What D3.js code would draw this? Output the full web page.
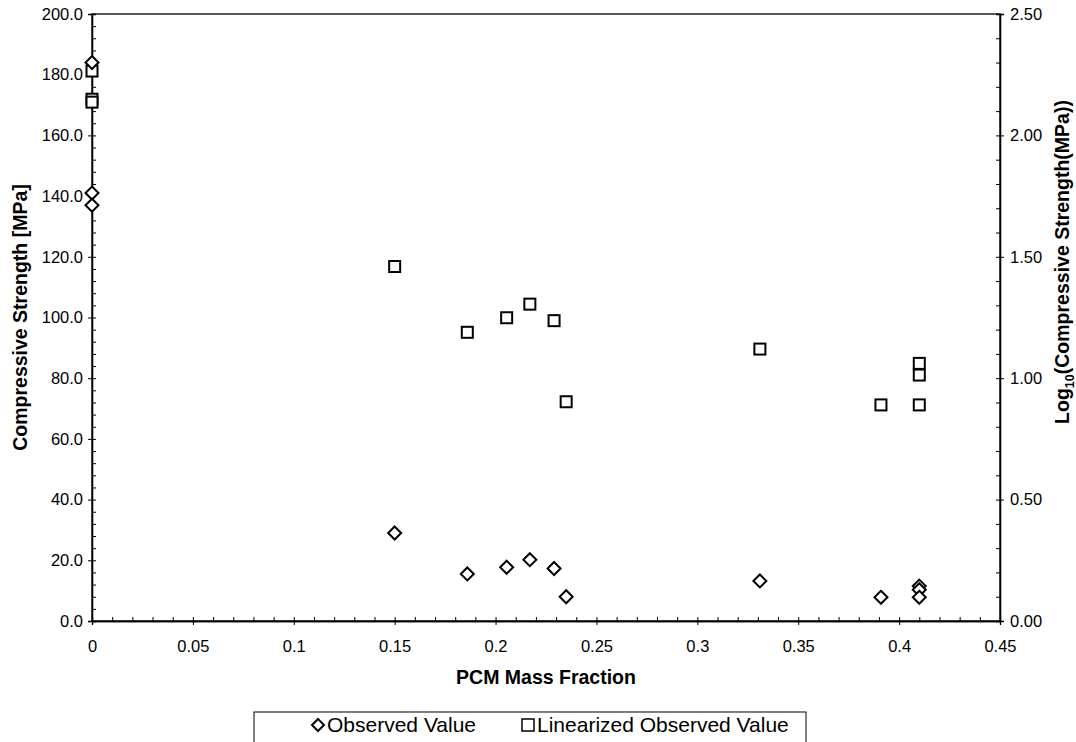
<!DOCTYPE html>
<html>
<head>
<meta charset="utf-8">
<script src="https://cdn.jsdelivr.net/npm/d3@7"></script>
<style>
  body { margin: 0; background: #fff; }
  svg { font-family: "Liberation Sans", Arial, sans-serif; }
</style>
</head>
<body>
<div id="chart"></div>
<script>
// PCM mass fraction of each sample
var fraction = [0, 0, 0, 0.15, 0.186, 0.2055, 0.217, 0.229, 0.235, 0.331, 0.391, 0.41, 0.41, 0.41]
// observed compressive strength [MPa]
var observed = [184, 141, 137, 29, 15.5, 17.7, 20.2, 17.3, 8, 13.2, 7.8, 11.5, 10.3, 7.8]
// linearized, log10 of strength
var linearized = [2.265, 2.149, 2.137, 1.46, 1.189, 1.249, 1.305, 1.237, 0.903, 1.12, 0.89, 1.061, 1.013, 0.89]

var xTicks = [0, 0.05, 0.1, 0.15, 0.2, 0.25, 0.3, 0.35, 0.4, 0.45]
var leftTicks = [0, 20, 40, 60, 80, 100, 120, 140, 160, 180, 200]
var rightTicks = [0, 0.5, 1, 1.5, 2, 2.5]
var seriesNames = ["Observed Value", "Linearized Observed Value"]

var W = 1076, H = 742
var m = {left: 92, right: 76, top: 14, bottom: 121}
var iw = W - m.left - m.right
var ih = H - m.top - m.bottom

var svg = d3.select("#chart").append("svg")
  .attr("width", W).attr("height", H)

var g = svg.append("g").attr("transform", "translate(" + m.left + "," + m.top + ")")

var x = d3.scaleLinear().domain([0, 0.45]).range([0, iw])
var yL = d3.scaleLinear().domain([0, 200]).range([ih, 0])
var yR = d3.scaleLinear().domain([0, 2.5]).range([ih, 0])

// frame
g.append("rect").attr("width", iw).attr("height", ih)
  .attr("fill", "none").attr("stroke", "#000").attr("stroke-width", 1.3)

// minor ticks
g.append("g").attr("transform", "translate(0," + ih + ")")
  .call(d3.axisBottom(x).tickValues(d3.range(0, 0.451, 0.01)).tickSize(-4).tickFormat(""))
g.append("g")
  .call(d3.axisLeft(yL).tickValues(d3.range(0, 201, 4)).tickSize(-4).tickFormat(""))
g.append("g").attr("transform", "translate(" + iw + ",0)")
  .call(d3.axisRight(yR).tickValues(d3.range(0, 2.51, 0.1)).tickSize(-4).tickFormat(""))

// major axes
g.append("g").attr("transform", "translate(0," + ih + ")")
  .call(d3.axisBottom(x).tickValues(xTicks).tickSize(4).tickPadding(15).tickFormat(d3.format("~g")))
g.append("g")
  .call(d3.axisLeft(yL).tickValues(leftTicks).tickSize(4).tickPadding(5).tickFormat(d3.format(".1f")))
g.append("g").attr("transform", "translate(" + iw + ",0)")
  .call(d3.axisRight(yR).tickValues(rightTicks).tickSize(4).tickPadding(6).tickFormat(d3.format(".2f")))

g.selectAll(".domain").attr("stroke", "#000").attr("stroke-width", 1.3)
g.selectAll(".tick line").attr("stroke", "#000")
g.selectAll(".tick text").attr("font-size", 16.5).attr("fill", "#000")

// axis titles
svg.append("text")
  .attr("x", m.left + iw / 2).attr("y", 684)
  .attr("text-anchor", "middle").attr("font-size", 19.5).attr("font-weight", "bold")
  .text("PCM Mass Fraction")

svg.append("text")
  .attr("transform", "translate(27," + (m.top + ih / 2) + ") rotate(-90)")
  .attr("text-anchor", "middle").attr("font-size", 19.5).attr("font-weight", "bold")
  .text("Compressive Strength [MPa]")

var rt = svg.append("text")
  .attr("transform", "translate(1069,262) rotate(-90)")
  .attr("text-anchor", "middle").attr("font-size", 19.5).attr("font-weight", "bold")
rt.append("tspan").text("Log")
rt.append("tspan").attr("font-size", 12.5).attr("dy", 5).text("10")
rt.append("tspan").attr("dy", -5).text("(Compressive Strength(MPa))")

// markers
var diamond = function(s) { return "M0," + (-s) + "L" + s + ",0L0," + s + "L" + (-s) + ",0Z" }
var pts = fraction.map(function(f, i) { return {f: f, o: observed[i], l: linearized[i]} })

g.selectAll(".sq").data(pts).enter().append("rect")
  .attr("class", "sq")
  .attr("x", function(d) { return x(d.f) - 5.5 })
  .attr("y", function(d) { return yR(d.l) - 5.5 })
  .attr("width", 11).attr("height", 11)
  .attr("fill", "#fff").attr("stroke", "#000").attr("stroke-width", 2)

g.selectAll(".dm").data(pts).enter().append("path")
  .attr("class", "dm")
  .attr("transform", function(d) { return "translate(" + x(d.f) + "," + yL(d.o) + ")" })
  .attr("d", diamond(6.5))
  .attr("fill", "#fff").attr("stroke", "#000").attr("stroke-width", 2)

// legend
var lg = svg.append("g").attr("transform", "translate(254,712)")
lg.append("rect").attr("width", 552).attr("height", 40)
  .attr("fill", "#fff").attr("stroke", "#000").attr("stroke-width", 1)
lg.append("path").attr("transform", "translate(64,13)").attr("d", diamond(6))
  .attr("fill", "#fff").attr("stroke", "#000").attr("stroke-width", 2)
lg.append("text").attr("x", 73).attr("y", 20).attr("font-size", 21).text(seriesNames[0])
lg.append("rect").attr("x", 268).attr("y", 7).attr("width", 12).attr("height", 12)
  .attr("fill", "#fff").attr("stroke", "#000").attr("stroke-width", 1.5)
lg.append("text").attr("x", 283).attr("y", 20).attr("font-size", 21).text(seriesNames[1])
</script>
</body>
</html>
